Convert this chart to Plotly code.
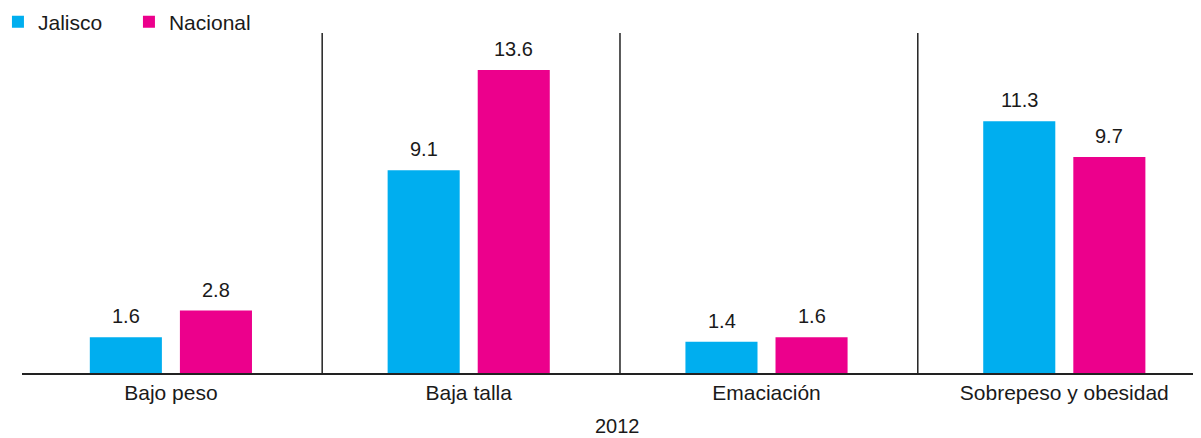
import plotly.graph_objects as go

categories = ["Bajo peso", "Baja talla", "Emaciación", "Sobrepeso y obesidad"]
jalisco = [1.6, 9.1, 1.4, 11.3]
nacional = [2.8, 13.6, 1.6, 9.7]
year_label = "2012"
series_names = ["Jalisco", "Nacional"]
colors = ["#00AEEF", "#EC008C"]

FONT = "Liberation Sans, Arial, sans-serif"
fs = 20
fs_lab = 21

fig = go.Figure()
for name, vals, col in zip(series_names, [jalisco, nacional], colors):
    fig.add_trace(go.Bar(x=categories, y=vals, name=name, marker=dict(color=col, line=dict(width=0))))

annotations = []
for vals, shift in zip([jalisco, nacional], [-45, 45]):
    for c, v in zip(categories, vals):
        annotations.append(dict(x=c, y=v, text=f"{v:.1f}", showarrow=False, xshift=shift,
                                yanchor="bottom", yshift=8, font=dict(size=fs, color="#1a1a1a", family=FONT)))
annotations.append(dict(x=0.5047, xref="paper", y=0, yref="paper", text=year_label, showarrow=False,
                        yanchor="middle", yshift=-53, borderpad=0,
                        font=dict(size=fs, color="#1a1a1a", family=FONT)))

shapes = []
for i in range(len(categories) - 1):
    shapes.append(dict(type="line", xref="x", yref="paper", x0=i + 0.508, x1=i + 0.508, y0=0, y1=1,
                       line=dict(color="#222222", width=1.5)))

fig.update_layout(
    width=1193, height=430,
    margin=dict(l=14, r=0, t=25, b=65, autoexpand=False),
    paper_bgcolor="white", plot_bgcolor="white",
    font=dict(family=FONT, size=fs, color="#1a1a1a"),
    barmode="group", bargap=0.395, bargroupgap=0.2,
    showlegend=True,
    legend=dict(orientation="h", x=-0.0204, y=1.032, yanchor="middle", xanchor="left",
                yref="paper", font=dict(size=fs_lab), entrywidth=86, entrywidthmode="pixels",
                traceorder="normal"),
    xaxis=dict(range=[-0.5, 3.459], showline=True, linecolor="#222222", linewidth=2,
               showgrid=False, ticks="", tickfont=dict(size=fs_lab), automargin=False,
               fixedrange=True),
    yaxis=dict(range=[0, 15.26], visible=False, showgrid=False, zeroline=False, automargin=False),
    annotations=annotations,
    shapes=shapes,
)

fig.write_html("out.html")
